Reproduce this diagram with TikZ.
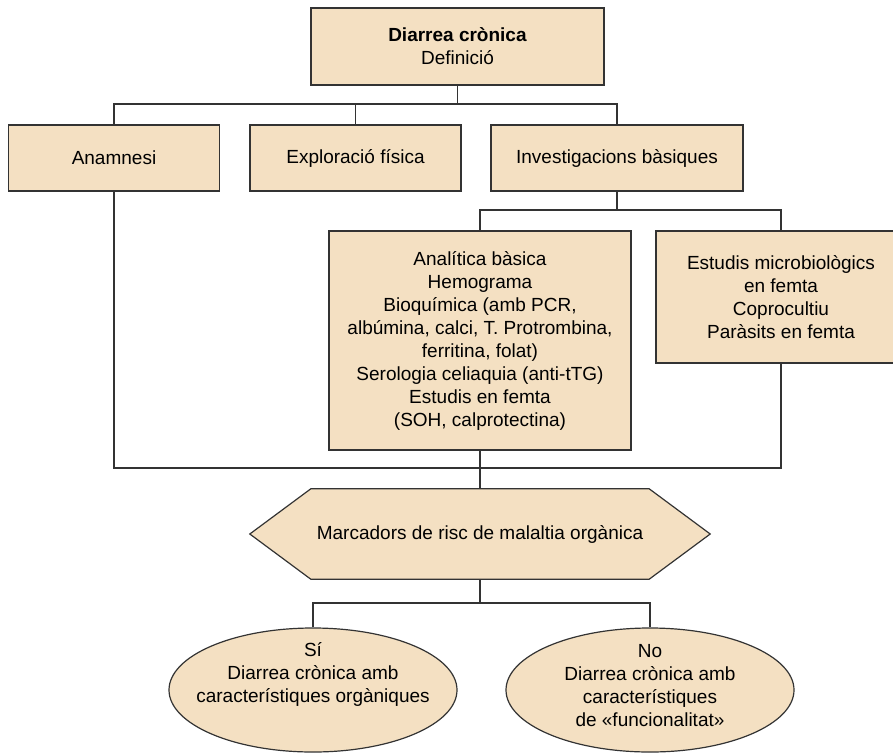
\documentclass[tikz,border=0pt]{standalone}
\usepackage{fontspec}
\setmainfont{Liberation Sans}
\usetikzlibrary{shapes.geometric,backgrounds,calc}
\definecolor{boxfill}{HTML}{F4E0C2}
\definecolor{edge}{HTML}{333333}
\begin{document}
\begin{tikzpicture}[x=1pt,y=-1pt,
  every node/.style={font=\fontsize{19}{23}\selectfont, text=black, align=center, inner sep=0pt},
  stepbox/.style={draw=edge, fill=boxfill, line width=1.2pt, rectangle},
  outcome/.style={draw=edge, fill=boxfill, line width=1.2pt, ellipse, minimum width=288pt, minimum height=124pt},
  link/.style={draw=edge, line width=1.2pt},
  plain/.style={}]
\useasboundingbox (0,0) rectangle (893,752);
\begin{scope}
\clip (0,0) rectangle (893,752);

% first level
\node[stepbox, minimum width=293pt, minimum height=77pt] (top) at (457.5,46.5)
  {\textbf{Diarrea crònica}\\Definició};
\node[stepbox, minimum width=211pt, minimum height=66pt] (anam) at (114,158) {Anamnesi};
\node[stepbox, minimum width=211pt, minimum height=66pt] (expl) at (355.5,158) {Exploració física};
\node[stepbox, minimum width=252pt, minimum height=66pt] (inv) at (617,158) {Investigacions bàsiques};

% basic investigations
\node[stepbox, minimum width=302pt, minimum height=219pt] (anal) at (480,340.5)
  {Analítica bàsica\\Hemograma\\Bioquímica (amb PCR,\\albúmina, calci, T. Protrombina,\\ferritina, folat)\\Serologia celiaquia (anti-tTG)\\Estudis en femta\\(SOH, calprotectina)};
\node[stepbox, minimum width=250pt, minimum height=132pt] (micro) at (781,297)
  {Estudis microbiològics\\en femta\\Coprocultiu\\Paràsits en femta};

% risk markers (hexagon)
\node[plain, minimum width=460pt, minimum height=90pt] (hex) at (480,534)
  {Marcadors de risc de malaltia orgànica};
\begin{scope}[on background layer]
\path[link, fill=boxfill, line join=miter]
  (hex.west) -- ($(hex.north west)+(61,0)$) -- ($(hex.north east)+(-61,0)$)
  -- (hex.east) -- ($(hex.south east)+(-61,0)$) -- ($(hex.south west)+(61,0)$) -- cycle;
\end{scope}

% outcomes
\node[outcome] (si) at (313,690) {};
\node[outcome] (no) at (650,690) {};
\node[plain] (sitext) at ($(si.center)+(0,-16)$)
  {Sí\\Diarrea crònica amb\\característiques orgàniques};
\node[plain] (notext) at ($(no.center)+(0,-4.5)$)
  {No\\Diarrea crònica amb\\característiques\\de «funcionalitat»};

% connectors
\coordinate (bus1) at (0,104);
\coordinate (bus2) at (0,210);
\coordinate (bus3) at (0,468);
\coordinate (bus4) at (0,603);
\draw[link] (top.south) -- (top.south |- bus1);
\draw[link] (anam.north) -- (anam.north |- bus1) -- (inv.north |- bus1) -- (inv.north);
\draw[link] (expl.north) -- (expl.north |- bus1);
\draw[link] (inv.south) -- (inv.south |- bus2);
\draw[link] (anal.north) -- (anal.north |- bus2) -- (micro.north |- bus2) -- (micro.north);
\draw[link] (anam.south) -- (anam.south |- bus3) -- (micro.south |- bus3) -- (micro.south);
\draw[link] (anal.south) -- (hex.north);
\draw[link] (hex.south) -- (hex.south |- bus4);
\draw[link] (si.north) -- (si.north |- bus4) -- (no.north |- bus4) -- (no.north);
\end{scope}
\end{tikzpicture}
\end{document}
